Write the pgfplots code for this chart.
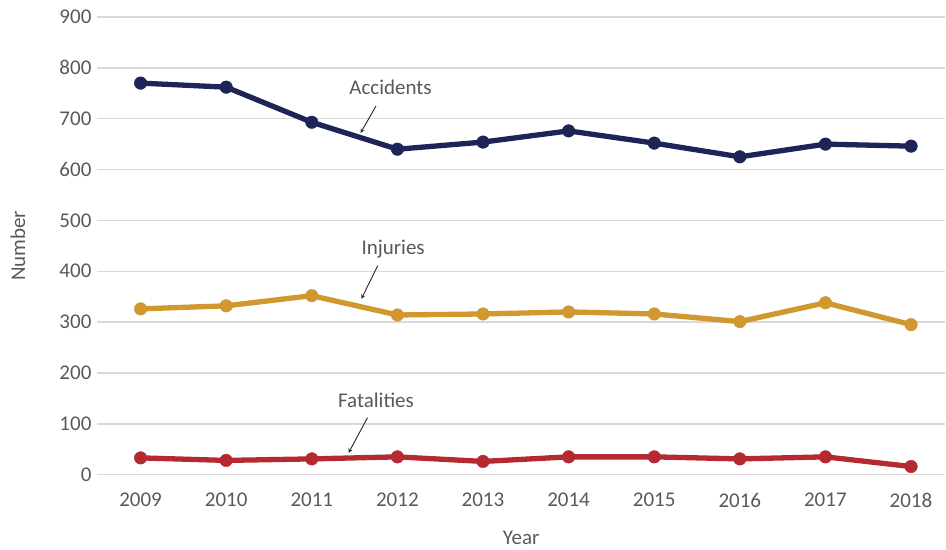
\documentclass[border=0pt]{standalone}
\usepackage{pgfplots}
\pgfplotsset{compat=1.18}
\usepackage{fontspec}
\setmainfont{Carlito}
\definecolor{acc}{HTML}{1C2556}
\definecolor{inj}{HTML}{D0982E}
\definecolor{fat}{HTML}{B52A30}
\definecolor{txt}{HTML}{595959}
\definecolor{grd}{HTML}{D9D9D9}
\begin{document}
\begin{tikzpicture}[x=1pt,y=1pt]
\begin{axis}[
  name=ax,
  scale only axis,
  width=849pt, height=458pt,
  xmin=2008.49, xmax=2018.4,
  ymin=0, ymax=900,
  xtick={2009,...,2018},
  ytick={0,100,...,900},
  xticklabel style={/pgf/number format/1000 sep=},
  /pgf/number format/assume math mode=true,
  ymajorgrids, grid style={grd, line width=1.4pt},
  axis line style={draw=none},
  major tick length=0pt,
  tick label style={font=\fontsize{21}{24}\selectfont, text=txt},
  xticklabel style={yshift=-15pt},
  yticklabel style={xshift=-2pt},
  clip=false,
]
\addplot[acc, line width=5.3pt, mark=*, mark size=6.3pt, mark options={line width=0.4pt}] coordinates {
(2009,770) (2010,762) (2011,693) (2012,640) (2013,654) (2014,676) (2015,652) (2016,625) (2017,650) (2018,646)};
\addplot[inj, line width=5.3pt, mark=*, mark size=6.3pt, mark options={line width=0.4pt}] coordinates {
(2009,326) (2010,332) (2011,352) (2012,314) (2013,316) (2014,320) (2015,316) (2016,301) (2017,338) (2018,295)};
\addplot[fat, line width=5.3pt, mark=*, mark size=6.3pt, mark options={line width=0.4pt}] coordinates {
(2009,33) (2010,28) (2011,31) (2012,35) (2013,26) (2014,35) (2015,35) (2016,31) (2017,35) (2018,16)};
\node[font=\fontsize{21}{24}\selectfont, text=txt] at (axis cs:2011.92,762) {Accidents};
\draw[-stealth, line width=0.9pt, black!85] (axis cs:2011.75,725) -- (axis cs:2011.57,672);
\node[font=\fontsize{21}{24}\selectfont, text=txt] at (axis cs:2011.95,444) {Injuries};
\draw[-stealth, line width=0.9pt, black!85] (axis cs:2011.77,411) -- (axis cs:2011.58,346);
\node[font=\fontsize{21}{24}\selectfont, text=txt] at (axis cs:2011.75,147) {Fatalities};
\draw[-stealth, line width=0.9pt, black!85] (axis cs:2011.65,112) -- (axis cs:2011.43,43);
\end{axis}
\node[font=\fontsize{21}{24}\selectfont, text=txt] at ([yshift=-63pt]ax.south) {Year};
\node[font=\fontsize{21}{24}\selectfont, text=txt, rotate=90] at ([xshift=-79pt]ax.west) {Number};
\path[use as bounding box] (ax.south west) ++(-97pt,-75pt) rectangle ++(946pt,550pt);
\end{tikzpicture}
\end{document}
